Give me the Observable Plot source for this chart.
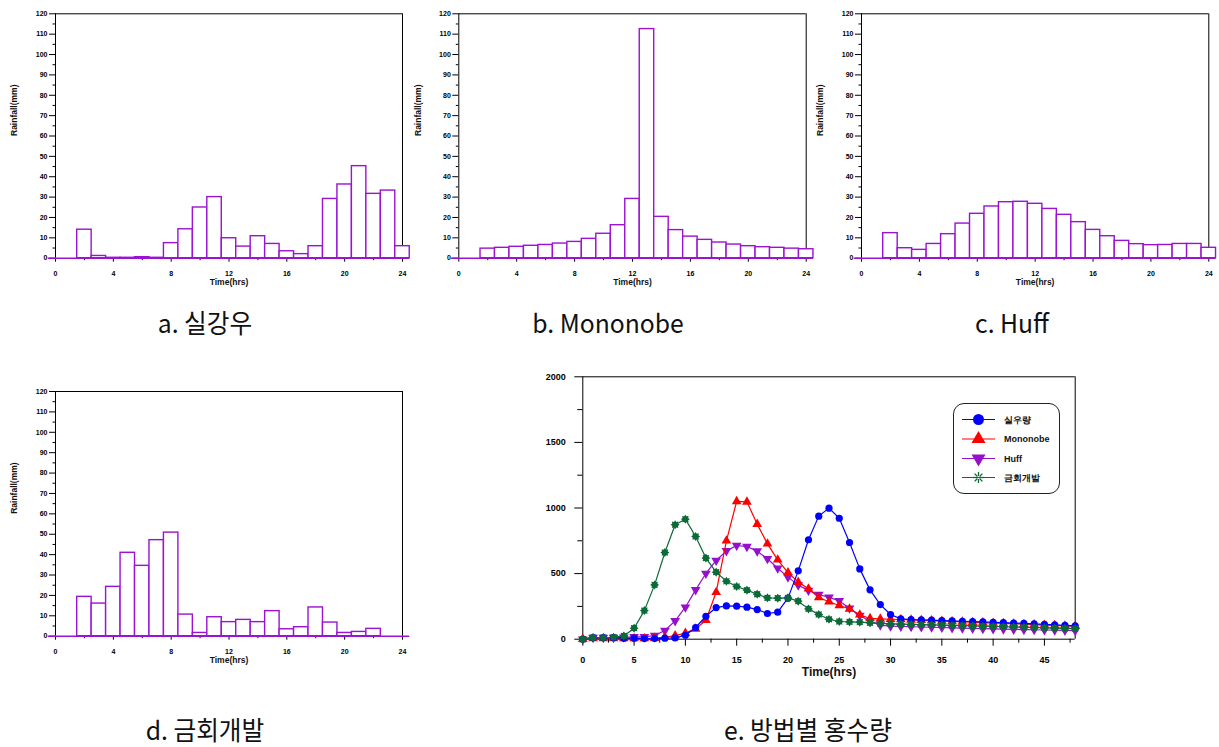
<!DOCTYPE html>
<html><head><meta charset="utf-8">
<script src="https://cdn.jsdelivr.net/npm/d3@7"></script>
<script src="https://cdn.jsdelivr.net/npm/@observablehq/plot@0.6"></script>
<style>
html,body{margin:0;padding:0;background:#fff;}
#root{position:relative;width:1219px;height:747px;overflow:hidden;font-family:"Liberation Sans",Arial,sans-serif;background:#fff;}
.panel{position:absolute;}
.panel svg{overflow:visible;}
.cap{position:absolute;font-family:"Noto Sans CJK KR","Noto Sans",sans-serif;font-size:26px;line-height:1.1;white-space:nowrap;color:#111;transform:translate(-50%,-50%) scaleX(0.95);}
.legend{position:absolute;border:1.3px solid #222;border-radius:11px;background:#fff;box-sizing:border-box;}
</style></head><body><div id="root"></div>
<script>
// ---------- data ----------
const hours = [0,1,2,3,4,5,6,7,8,9,10,11,12,13,14,15,16,17,18,19,20,21,22,23,24];
const rainActual   = [0,0,14,1.1,0.2,0.2,0.5,0.2,7.4,14.2,24.9,30,9.8,5.7,10.8,7.0,3.4,2.0,5.9,29.1,36.2,45.2,31.6,33.2,5.9];
const rainMononobe = [0,0,4.7,5.1,5.6,6.1,6.5,7.2,8.0,9.5,12.0,16.2,29.1,112.5,20.3,13.8,10.6,9.0,7.7,6.7,5.9,5.4,5.1,4.7,4.4];
const rainHuff     = [0,0,12.3,4.9,4.1,7.0,11.8,17.0,21.8,25.4,27.5,27.7,26.7,24.2,21.3,17.7,13.9,10.8,8.5,6.9,6.4,6.5,7.0,7.0,5.1];
const rainDesign   = [0,0,19.3,16.0,24.2,40.9,34.5,47.1,50.8,10.6,1.6,9.3,6.9,8.0,6.9,12.3,3.4,4.4,14.1,6.7,1.6,2.1,3.6,0,0];
const hourTicks = [0,4,8,12,16,20,24];
const hourMinor = [2,6,10,14,18,22];
const rainTicks = [0,10,20,30,40,50,60,70,80,90,100,110,120];
const rainMinor = [5,15,25,35,45,55,65,75,85,95,105,115];

const times = [0,1,2,3,4,5,6,7,8,9,10,11,12,13,14,15,16,17,18,19,20,21,22,23,24,25,26,27,28,29,30,31,32,33,34,35,36,37,38,39,40,41,42,43,44,45,46,47,48];
const qActual   = [0,12,12,12,8,8,5,5,8,10,30,89,175,241,254,252,244,226,196,206,313,521,758,938,999,922,737,536,376,264,188,155,150,147,145,142,140,137,135,132,129,126,123,120,117,113,110,106,102];
const qMononobe = [0,5,5,5,5,5,5,8,15,28,46,79,145,358,750,1050,1047,877,727,605,508,435,384,318,285,257,231,186,158,155,152,150,147,144,141,138,135,132,129,126,123,120,117,114,111,108,105,102,99];
const qHuff     = [0,12,12,12,15,18,18,28,66,140,244,376,501,600,673,714,706,671,613,541,473,412,371,340,320,292,236,180,137,107,99,97,95,93,91,89,87,85,83,81,79,77,75,73,72,70,69,67,66];
const qDesign   = [0,12,12,15,25,84,218,414,661,872,915,783,618,511,442,402,374,343,315,313,315,290,231,188,152,135,132,130,125,120,117,115,113,111,109,107,105,103,101,99,97,95,93,91,89,87,85,83,81];
const timeTicks = [0,5,10,15,20,25,30,35,40,45];
const timeMinor = [2.5,7.5,12.5,17.5,22.5,27.5,32.5,37.5,42.5,47.5];
const flowTicks = [0,500,1000,1500,2000];
const flowMinor = [250,750,1250,1750];
const seriesNames = ["실우량","Mononobe","Huff","금회개발"];
const captions = ["a.  실강우","b.  Mononobe","c.  Huff","d.  금회개발","e.  방법별  홍수량"];

// ---------- helpers ----------
const root = document.getElementById("root");
const barColor = "#9a12d2";
const plain = d => String(d);
const axisStyle = {fontFamily: "'Liberation Sans', Arial, sans-serif", fontWeight: "bold", color: "#000", background: "transparent", overflow: "visible"};

function place(node, box) {
  const div = document.createElement("div");
  div.className = "panel";
  div.style.left = box.left + "px";
  div.style.top = box.top + "px";
  div.appendChild(node);
  root.appendChild(div);
}

function rainPanel(values, box, frame) {
  const data = hours.map((h, i) => ({h, v: values[i]}));
  const chart = Plot.plot({
    width: box.width, height: box.height,
    marginLeft: frame.x0 - box.left,
    marginRight: box.left + box.width - frame.x1,
    marginTop: frame.y0 - box.top,
    marginBottom: box.top + box.height - frame.y1,
    x: {domain: [hourTicks[0], hourTicks[hourTicks.length - 1]]},
    y: {domain: [rainTicks[0], rainTicks[rainTicks.length - 1]]},
    style: axisStyle,
    marks: [
      Plot.ruleY([rainTicks[rainTicks.length - 1]], {stroke: "#000", strokeWidth: 1}),
      Plot.ruleX([hourTicks[hourTicks.length - 1]], {stroke: "#000", strokeWidth: 1}),
      Plot.ruleX([hourTicks[0]], {stroke: "#000", strokeWidth: 1}),
      Plot.axisY({ticks: rainTicks, tickSize: 6, tickPadding: 2, fontSize: 7, tickFormat: plain, label: null}),
      Plot.axisY({ticks: rainMinor, tickSize: 2.5, tickFormat: () => "", label: null}),
      Plot.axisX({ticks: hourTicks, tickSize: 4, tickPadding: 9, fontSize: 7, tickFormat: plain, label: null}),
      Plot.axisX({ticks: hourMinor, tickSize: 2.5, tickFormat: () => "", label: null}),
      Plot.rect(data, {x1: d => d.h - 0.5, x2: d => d.h + 0.5, y1: () => 0, y2: "v", fill: "#fff", stroke: barColor, strokeWidth: 1.4}),
      Plot.ruleY([0], {x1: () => hours[0] - 0.5, x2: () => hours[hours.length - 1] + 0.5, stroke: barColor, strokeWidth: 1.6}),
      Plot.text(["Rainfall(mm)"], {text: d => d, frameAnchor: "left", dx: -41, rotate: -90, fontSize: 8.5, fontWeight: "bold", fill: "#111"}),
      Plot.text(["Time(hrs)"], {text: d => d, frameAnchor: "bottom", dy: 27, fontSize: 8.5, fontWeight: "bold", fill: "#111"})
    ]
  });
  place(chart, box);
}

rainPanel(rainActual,   {left: 0,   top: 0,   width: 410, height: 300}, {x0: 55,    x1: 402,    y0: 13.3,  y1: 257.7});
rainPanel(rainMononobe, {left: 405, top: 0,   width: 410, height: 300}, {x0: 458.3, x1: 805.7,  y0: 13.3,  y1: 257.7});
rainPanel(rainHuff,     {left: 810, top: 0,   width: 409, height: 300}, {x0: 861,   x1: 1208.3, y0: 13.3,  y1: 257.7});
rainPanel(rainDesign,   {left: 0,   top: 370, width: 410, height: 300}, {x0: 55,    x1: 402,    y0: 391,   y1: 635.7});

// ---------- hydrograph ----------
const burst = {draw(ctx, size) {
  const r = Math.sqrt(size / Math.PI), n = 8;
  for (let i = 0; i < 2 * n; i++) {
    const a = i * Math.PI / n - Math.PI / 2, rr = i % 2 === 0 ? r * 1.25 : r * 0.85;
    const x = rr * Math.cos(a), y = rr * Math.sin(a);
    if (i) ctx.lineTo(x, y); else ctx.moveTo(x, y);
  }
  ctx.closePath();
}};
const series = [
  {name: seriesNames[0], values: qActual,   color: "#0000ff", symbol: "circle",   rotate: 0},
  {name: seriesNames[1], values: qMononobe, color: "#ff0000", symbol: "triangle", rotate: 0},
  {name: seriesNames[2], values: qHuff,     color: "#9410cc", symbol: "triangle", rotate: 180},
  {name: seriesNames[3], values: qDesign,   color: "#0b6a38", symbol: burst,      rotate: 0}
];
const drawOrder = [2, 1, 0, 3];
const seriesMarks = [];
for (const k of drawOrder) {
  const s = series[k];
  const data = times.map((t, i) => ({t, q: s.values[i]}));
  seriesMarks.push(Plot.line(data, {x: "t", y: "q", stroke: s.color, strokeWidth: 1.2}));
  seriesMarks.push(Plot.dot(data, {x: "t", y: "q", fill: s.color, stroke: "none", symbol: s.symbol, rotate: s.rotate, r: 3.6}));
}
const eBox = {left: 530, top: 360, width: 560, height: 330};
const eFrame = {x0: 582.3, x1: 1074.7, y0: 376.3, y1: 638.7};
const eChart = Plot.plot({
  width: eBox.width, height: eBox.height,
  marginLeft: eFrame.x0 - eBox.left,
  marginRight: eBox.left + eBox.width - eFrame.x1,
  marginTop: eFrame.y0 - eBox.top,
  marginBottom: eBox.top + eBox.height - eFrame.y1,
  x: {domain: [times[0], times[times.length - 1]]},
  y: {domain: [flowTicks[0], flowTicks[flowTicks.length - 1]]},
  style: axisStyle,
  marks: [
    Plot.ruleY([flowTicks[flowTicks.length - 1]], {stroke: "#000", strokeWidth: 1}),
    Plot.ruleX([times[times.length - 1]], {stroke: "#000", strokeWidth: 1}),
    Plot.ruleX([times[0]], {stroke: "#000", strokeWidth: 1}),
    Plot.ruleY([flowTicks[0]], {stroke: "#000", strokeWidth: 1}),
    Plot.axisY({ticks: flowTicks, tickSize: 8, tickPadding: 9, fontSize: 9, tickFormat: plain, label: null}),
    Plot.axisY({ticks: flowMinor, tickSize: 5, tickFormat: () => "", label: null}),
    Plot.axisX({ticks: timeTicks, tickSize: 7, tickPadding: 10, fontSize: 9, tickFormat: plain, label: null}),
    Plot.axisX({ticks: timeMinor, tickSize: 4, tickFormat: () => "", label: null}),
    ...seriesMarks,
    Plot.text(["Time(hrs)"], {text: d => d, frameAnchor: "bottom", dy: 36.5, fontSize: 12, fontWeight: "bold", fill: "#111"})
  ]
});
place(eChart, eBox);

// ---------- legend ----------
const legend = document.createElement("div");
legend.className = "legend";
Object.assign(legend.style, {left: "953px", top: "403px", width: "107px", height: "91px"});
root.appendChild(legend);
const lsvg = d3.select(legend).append("svg").attr("width", 105).attr("height", 89)
  .style("position", "absolute").style("left", "0px").style("top", "0px")
  .style("font-family", "'Liberation Sans', Arial, sans-serif").style("font-weight", "bold");
const rowY = [15.5, 35, 54.5, 73.5];
series.forEach((s, i) => {
  const g = lsvg.append("g").attr("transform", `translate(0,${rowY[i]})`);
  g.append("line").attr("x1", 8).attr("x2", 41).attr("stroke", s.color).attr("stroke-width", 1.2);
  const mg = g.append("g").attr("transform", `translate(24.5,0) rotate(${s.rotate})`);
  if (i === 3) {
    for (let a = 0; a < 8; a++) {
      const ang = a * Math.PI / 4;
      mg.append("line").attr("x1", 1.5 * Math.cos(ang)).attr("y1", 1.5 * Math.sin(ang))
        .attr("x2", 5.5 * Math.cos(ang)).attr("y2", 5.5 * Math.sin(ang))
        .attr("stroke", s.color).attr("stroke-width", 1.3);
    }
  } else {
    const type = s.symbol === "circle" ? d3.symbolCircle : d3.symbolTriangle;
    mg.append("path").attr("d", d3.symbol(type, s.symbol === "circle" ? 95 : 85)()).attr("fill", s.color);
  }
  g.append("text").attr("x", 50).attr("dy", "0.35em").attr("font-size", 9).attr("fill", "#111").text(s.name);
});

// ---------- captions ----------
const capPos = [[205, 322], [608, 322], [1012, 322], [205, 729], [808, 729]];
captions.forEach((c, i) => {
  const d = document.createElement("div");
  d.className = "cap";
  d.style.left = capPos[i][0] + "px";
  d.style.top = capPos[i][1] + "px";
  d.textContent = c;
  root.appendChild(d);
});
</script></body></html>
